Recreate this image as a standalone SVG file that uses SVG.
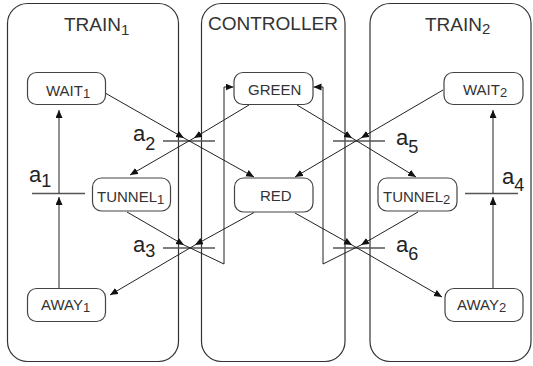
<svg xmlns="http://www.w3.org/2000/svg" width="533" height="366" viewBox="0 0 533 366">
<style>
.cont{fill:none;stroke:#333;stroke-width:1.2}
.node{fill:#fff;stroke:#444;stroke-width:1.2}
.title{font-family:"Liberation Sans",Arial,sans-serif;font-size:19px;fill:#333}
.nt{font-family:"Liberation Sans",Arial,sans-serif;font-size:15px;fill:#333}
.lab{font-family:"Liberation Sans",Arial,sans-serif;font-size:22px;fill:#222}
.sub{font-size:15px}
.lsub{font-size:18px}
.nsub{font-size:13px}
.c{fill:none;stroke:#222;stroke-width:1;marker-end:url(#ah)}
.bar{stroke:#555;stroke-width:1.3}
</style>
<defs>
<marker id="ah" markerUnits="userSpaceOnUse" markerWidth="9" markerHeight="8" refX="8" refY="3.5" orient="auto">
<path d="M0,0 L8,3.5 L0,7 z" fill="#111"/>
</marker>
</defs>
<rect width="533" height="366" fill="#fff"/>
<g id="train1">
<rect class="cont" x="7.5" y="3.5" width="171" height="358" rx="20"/>
<text class="title" x="64" y="31">TRAIN<tspan class="sub" dy="4">1</tspan></text>
</g>
<g id="controller">
<rect class="cont" x="201.5" y="3.5" width="143.5" height="358" rx="20"/>
<text class="title" x="208" y="30">CONTROLLER</text>
</g>
<g id="train2">
<rect class="cont" x="370" y="3.5" width="161" height="358" rx="20"/>
<text class="title" x="425" y="31">TRAIN<tspan class="sub" dy="3">2</tspan></text>
</g>
<g id="transitions">
<line class="bar" x1="32" y1="193.5" x2="85" y2="193.5"/>
<line class="bar" x1="163" y1="141" x2="215" y2="141"/>
<line class="bar" x1="163" y1="248" x2="215" y2="248"/>
<line class="bar" x1="465" y1="193.5" x2="518" y2="193.5"/>
<line class="bar" x1="333" y1="141" x2="385" y2="141"/>
<line class="bar" x1="333" y1="248" x2="385" y2="248"/>
<text class="lab" x="29" y="182">a<tspan class="lsub" dy="5">1</tspan></text>
<text class="lab" x="133" y="140.5">a<tspan class="lsub" dy="9.5">2</tspan></text>
<text class="lab" x="133" y="251.5">a<tspan class="lsub" dy="5.5">3</tspan></text>
<text class="lab" x="502" y="184">a<tspan class="lsub" dy="7">4</tspan></text>
<text class="lab" x="396" y="145">a<tspan class="lsub" dy="8">5</tspan></text>
<text class="lab" x="396" y="251.5">a<tspan class="lsub" dy="8.5">6</tspan></text>
</g>
<g id="connectors">
<line class="c" x1="59" y1="288" x2="59" y2="197"/>
<line class="c" x1="59" y1="193.5" x2="59" y2="110"/>
<line class="c" x1="493" y1="288" x2="493" y2="197"/>
<line class="c" x1="493" y1="193.5" x2="493" y2="110"/>
<line class="c" x1="106" y1="93.5" x2="184" y2="138"/>
<line class="c" x1="184" y1="138" x2="254" y2="177"/>
<line class="c" x1="249" y1="105" x2="194" y2="138"/>
<line class="c" x1="194" y1="138" x2="130" y2="175"/>
<line class="c" x1="127" y1="212" x2="184" y2="245"/>
<line class="c" x1="254" y1="212.5" x2="195" y2="245"/>
<line class="c" x1="195" y1="245" x2="110" y2="295"/>
<polyline class="c" points="184,245 224,264 224,87 233.5,87"/>
<line class="c" x1="297" y1="105" x2="352" y2="138"/>
<line class="c" x1="352" y1="138" x2="416" y2="177"/>
<line class="c" x1="443" y1="90" x2="361" y2="138"/>
<line class="c" x1="361" y1="138" x2="295" y2="177"/>
<line class="c" x1="295" y1="213" x2="352" y2="245"/>
<line class="c" x1="352" y1="245" x2="442" y2="297"/>
<line class="c" x1="418" y1="212" x2="361" y2="245"/>
<polyline class="c" points="361,245 323,264 323,87 313.5,87"/>
</g>
<g id="wait1"><rect class="node" x="27.5" y="72.5" width="78" height="32" rx="9"/><text class="nt" x="46" y="95.5">WAIT<tspan class="nsub" dy="2">1</tspan></text></g>
<g id="tunnel1"><rect class="node" x="92.5" y="178" width="78" height="33" rx="9"/><text class="nt" x="97" y="201.5">TUNNEL<tspan class="nsub" dy="2">1</tspan></text></g>
<g id="away1"><rect class="node" x="27.5" y="288.5" width="78" height="33" rx="9"/><text class="nt" x="41" y="310">AWAY<tspan class="nsub" dy="2">1</tspan></text></g>
<g id="green"><rect class="node" x="234" y="72.5" width="79" height="32" rx="9"/><text class="nt" x="248" y="95">GREEN</text></g>
<g id="red"><rect class="node" x="234.5" y="178" width="78.5" height="34" rx="9"/><text class="nt" x="260" y="201">RED</text></g>
<g id="wait2"><rect class="node" x="444" y="72.5" width="79" height="32" rx="9"/><text class="nt" x="463" y="95">WAIT<tspan class="nsub" dy="2">2</tspan></text></g>
<g id="tunnel2"><rect class="node" x="378" y="178" width="79" height="33" rx="9"/><text class="nt" x="383" y="201.5">TUNNEL<tspan class="nsub" dy="2">2</tspan></text></g>
<g id="away2"><rect class="node" x="445" y="288.5" width="78" height="33" rx="9"/><text class="nt" x="457" y="310">AWAY<tspan class="nsub" dy="2">2</tspan></text></g>
</svg>
